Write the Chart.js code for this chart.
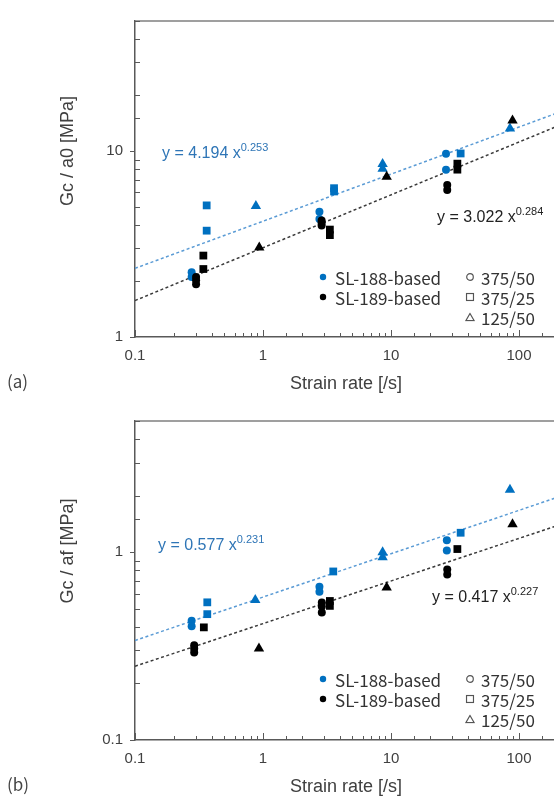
<!DOCTYPE html>
<html>
<head>
<meta charset="utf-8">
<script src="https://cdn.jsdelivr.net/npm/chart.js@4.4.1/dist/chart.umd.min.js"></script>
<style>
body { margin:0; width:554px; height:797px; overflow:hidden; background:#fff; position:relative; font-family:"Liberation Sans", Arial, sans-serif; }
.box { position:absolute; left:0; width:680px; }
canvas { display:block; }
.t { position:absolute; white-space:nowrap; line-height:20px; }
.ytitle { position:absolute; white-space:nowrap; font-size:18px; color:#404040; transform:translate(-50%,-50%) rotate(-90deg); }
.xtitle { position:absolute; white-space:nowrap; font-size:18px; color:#404040; transform:translate(-50%,-50%); }
.tag { position:absolute; font-family:"Noto Sans CJK JP", "Noto Sans", sans-serif; font-size:17px; color:#444; transform:translateY(-50%); }
.eq { position:absolute; white-space:nowrap; font-size:16px; transform:translateY(-50%); }
.eq sup { font-size:11px; vertical-align:0; position:relative; top:-7px; }
.leg { position:absolute; white-space:nowrap; font-family:"Noto Sans CJK JP", "Noto Sans", sans-serif; font-size:17px; color:#333; transform:translateY(-50%); }
.sym { position:absolute; transform:translate(-50%,-50%); }
</style>
</head>
<body>
<div class="box" style="top:0;height:400px"><canvas id="chartA" width="680" height="400"></canvas></div>
<div class="box" style="top:400px;height:397px"><canvas id="chartB" width="680" height="397"></canvas></div>

<div class="ytitle" style="left:67px;top:151px">Gc / a0 [MPa]</div>
<div class="xtitle" style="left:346px;top:383px">Strain rate [/s]</div>
<div class="tag" style="left:7px;top:380px">(a)</div>
<div class="eq" style="left:162px;top:153px;color:#2e75b6">y = 4.194 x<sup>0.253</sup></div>
<div class="eq" style="left:437px;top:217px;color:#222">y = 3.022 x<sup>0.284</sup></div>

<div class="ytitle" style="left:67px;top:551px">Gc / af [MPa]</div>
<div class="xtitle" style="left:346px;top:786px">Strain rate [/s]</div>
<div class="tag" style="left:7px;top:783px">(b)</div>
<div class="eq" style="left:158px;top:545px;color:#2e75b6">y = 0.577 x<sup>0.231</sup></div>
<div class="eq" style="left:432px;top:597px;color:#222">y = 0.417 x<sup>0.227</sup></div>

<div id="legA"></div>
<div id="legB"></div>

<script>
// strain rate [/s] vs Gc/a0 [MPa] -- panel (a)
var a188Circle = [[0.277,2.23],[0.277,2.10],[2.76,4.71],[2.76,4.31],[26.9,9.68],[26.9,7.93]];
var a188Square = [[0.363,5.1],[0.363,3.73],[3.59,6.31],[3.59,6.06],[35,9.7]];
var a188Tri    = [[0.88,5.06],[8.6,8.52],[8.6,8.02],[85,13.2]];
var a189Circle = [[0.30,2.10],[0.30,2.02],[0.30,1.92],[2.87,4.23],[2.87,4.11],[2.87,3.98],[27.5,6.57],[27.5,6.18]];
var a189Square = [[0.342,2.74],[0.342,2.32],[3.33,3.78],[3.33,3.53],[33,8.55],[33,7.94]];
var a189Tri    = [[0.935,3.03],[9.25,7.26],[89,14.6]];
var aFit188 = [[0.1,2.34],[1000,24.1]];   // y = 4.194 x^0.253
var aFit189 = [[0.1,1.57],[1000,21.5]];   // y = 3.022 x^0.284

// strain rate [/s] vs Gc/af [MPa] -- panel (b)
var b188Circle = [[0.277,0.431],[0.277,0.403],[2.76,0.655],[2.76,0.616],[27.3,1.16],[27.3,1.02]];
var b188Square = [[0.367,0.541],[0.367,0.468],[3.54,0.79],[35,1.27]];
var b188Tri    = [[0.87,0.557],[8.6,1.0],[8.6,0.94],[85,2.15]];
var b189Circle = [[0.29,0.32],[0.29,0.307],[0.29,0.292],[2.88,0.54],[2.88,0.514],[2.88,0.477],[27.5,0.808],[27.5,0.76]];
var b189Square = [[0.345,0.398],[3.33,0.55],[3.33,0.518],[33,1.04]];
var b189Tri    = [[0.93,0.307],[9.25,0.649],[89,1.41]];
var bFit188 = [[0.1,0.339],[1000,2.845]];  // y = 0.577 x^0.231
var bFit189 = [[0.1,0.247],[1000,2.0]];    // y = 0.417 x^0.227

var xRange = [0.1, 1000];
var aRange = [1, 50];
var bRange = [0.1, 5];
var seriesNames = ["SL-188-based", "SL-189-based"];
var specimenNames = ["375/50", "375/25", "125/50"];

var BLUE = "#0070c0";
var BLACK = "#000000";

function pts(arr) {
  return arr.map(function (p) { return { x: p[0], y: p[1] }; });
}

function isPow10(v) {
  var l = Math.log10(v);
  return Math.abs(l - Math.round(l)) < 1e-6;
}

function marks(arr, color, shape, order) {
  var r = shape == "circle" ? 4 : (shape == "rect" ? 5.5 : 6);
  return {
    data: pts(arr), pointStyle: shape, pointRadius: r,
    backgroundColor: color, borderColor: color, borderWidth: 0,
    showLine: false, order: order
  };
}

function fit(arr, color) {
  return {
    data: pts(arr), showLine: true, pointRadius: 0, borderColor: color,
    borderWidth: 1.5, borderDash: [3, 2.5], fill: false, order: 3
  };
}

var frame = {
  id: "frame",
  afterDraw: function (chart) {
    var ctx = chart.ctx, a = chart.chartArea;
    var xs = chart.scales.x, ys = chart.scales.y;
    ctx.save();
    ctx.strokeStyle = "#7f7f7f";
    ctx.lineWidth = 1.5;
    ctx.beginPath(); ctx.moveTo(a.left, a.top); ctx.lineTo(a.right, a.top); ctx.stroke();
    ctx.strokeStyle = "#595959";
    ctx.lineWidth = 1;
    xs.ticks.forEach(function (t) {
      var px = Math.round(xs.getPixelForValue(t.value)) + 0.5;
      var len = isPow10(t.value) ? 7 : 4;
      ctx.beginPath(); ctx.moveTo(px, a.bottom); ctx.lineTo(px, a.bottom - len); ctx.stroke();
    });
    ys.ticks.forEach(function (t) {
      var py = Math.round(ys.getPixelForValue(t.value)) + 0.5;
      ctx.beginPath();
      if (isPow10(t.value)) { ctx.moveTo(a.left - 5, py); ctx.lineTo(a.left, py); }
      else { ctx.moveTo(a.left, py); ctx.lineTo(a.left + 5, py); }
      ctx.stroke();
    });
    ctx.restore();
  }
};

function makeChart(id, data, yr, padTop, xHeight) {
  var tickFont = { family: "'Liberation Sans', Arial, sans-serif", size: 15 };
  return new Chart(document.getElementById(id), {
    type: "scatter",
    data: {
      datasets: [
        marks(data[3], BLACK, "circle", 1),
        marks(data[4], BLACK, "rect", 1),
        marks(data[5], BLACK, "triangle", 1),
        marks(data[0], BLUE, "circle", 2),
        marks(data[1], BLUE, "rect", 2),
        marks(data[2], BLUE, "triangle", 2),
        fit(data[6], "#5a9bd5"),
        fit(data[7], "#3a3a3a")
      ]
    },
    options: {
      responsive: false,
      animation: false,
      layout: { padding: { left: 0, top: padTop, right: 33, bottom: 0 } },
      plugins: { legend: { display: false }, tooltip: { enabled: false } },
      scales: {
        x: {
          type: "logarithmic", min: xRange[0], max: xRange[1],
          grid: { display: false, drawTicks: false },
          border: { display: true, color: "#595959", width: 1.5 },
          ticks: {
            autoSkip: false, maxRotation: 0, padding: 10, color: "#404040", font: tickFont,
            callback: function (v) { return isPow10(v) ? String(v) : ""; }
          },
          afterFit: function (s) { s.height = xHeight; }
        },
        y: {
          type: "logarithmic", min: yr[0], max: yr[1],
          grid: { display: false, drawTicks: false },
          border: { display: true, color: "#595959", width: 1.5 },
          ticks: {
            autoSkip: false, padding: 12, color: "#404040", font: tickFont,
            callback: function (v) { return isPow10(v) ? String(v) : ""; }
          },
          afterFit: function (s) { s.width = 135; }
        }
      }
    },
    plugins: [frame]
  });
}

makeChart("chartA", [a188Circle, a188Square, a188Tri, a189Circle, a189Square, a189Tri, aFit188, aFit189], aRange, 13, 63);
makeChart("chartB", [b188Circle, b188Square, b188Tri, b189Circle, b189Square, b189Tri, bFit188, bFit189], bRange, 16, 57);

// legends (html)
function symbol(shape, fill) {
  if (shape == "tri") {
    return '<svg width="10" height="9" viewBox="0 0 10 9"><polygon points="5,1 9.2,8.2 0.8,8.2" fill="none" stroke="#555" stroke-width="1.2"/></svg>';
  }
  if (shape == "sq") {
    return '<svg width="9" height="9" viewBox="0 0 9 9"><rect x="1" y="1" width="7" height="7" fill="none" stroke="#555" stroke-width="1.2"/></svg>';
  }
  if (fill) {
    return '<svg width="8" height="8" viewBox="0 0 8 8"><circle cx="4" cy="4" r="3.2" fill="' + fill + '"/></svg>';
  }
  return '<svg width="9" height="9" viewBox="0 0 9 9"><circle cx="4.5" cy="4.5" r="3.3" fill="none" stroke="#555" stroke-width="1.2"/></svg>';
}

function legend(id, rows) {
  var html = "";
  html += '<div class="sym" style="left:323px;top:' + rows[0] + 'px;line-height:0">' + symbol("dot", BLUE) + '</div>';
  html += '<div class="leg" style="left:335px;top:' + rows[0] + 'px">' + seriesNames[0] + '</div>';
  html += '<div class="sym" style="left:323px;top:' + rows[1] + 'px;line-height:0">' + symbol("dot", BLACK) + '</div>';
  html += '<div class="leg" style="left:335px;top:' + rows[1] + 'px">' + seriesNames[1] + '</div>';
  var shapes = ["circ", "sq", "tri"];
  for (var i = 0; i < 3; i++) {
    html += '<div class="sym" style="left:470px;top:' + rows[i] + 'px;line-height:0">' + symbol(shapes[i]) + '</div>';
    html += '<div class="leg" style="left:481px;top:' + rows[i] + 'px">' + specimenNames[i] + '</div>';
  }
  document.getElementById(id).innerHTML = html;
}

legend("legA", [277, 297, 317]);
legend("legB", [679, 699, 719]);
</script>
</body>
</html>
